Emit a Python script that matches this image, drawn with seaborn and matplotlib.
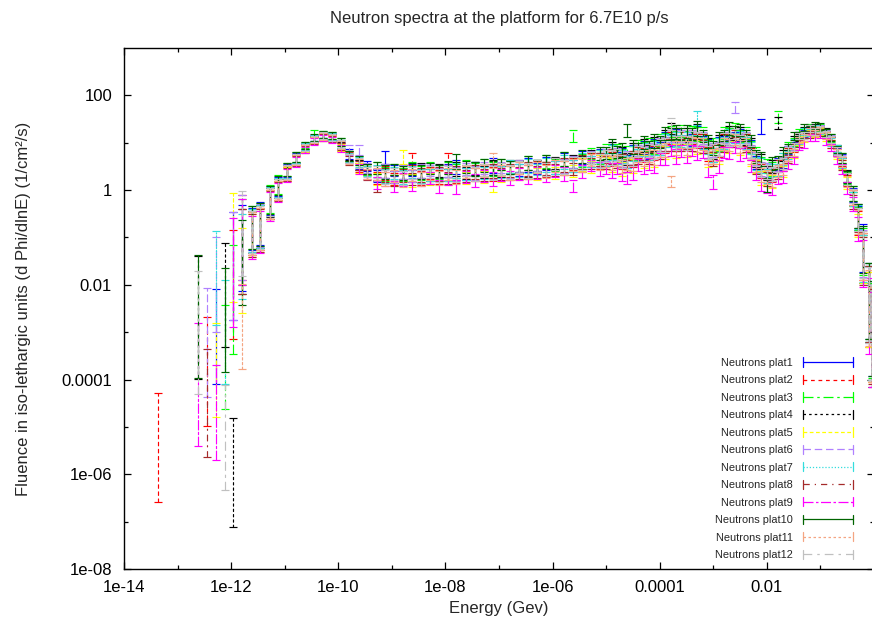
import matplotlib
matplotlib.use("Agg")
import numpy as np
import pandas as pd
import matplotlib.pyplot as plt
from matplotlib.lines import Line2D
from matplotlib.legend_handler import HandlerBase
from matplotlib.ticker import FixedLocator, FixedFormatter, NullFormatter
import seaborn as sns

# ---------------- data ----------------
energy = [4.3e-14,
          2.4e-13, 3.5e-13, 5.2e-13, 7.6e-13, 1.1e-12, 1.6e-12,
          2.4e-12, 3.5e-12, 5.2e-12, 7.6e-12, 1.1e-11, 1.6e-11, 2.4e-11, 3.5e-11, 5.2e-11, 7.6e-11,
          1.1e-10, 1.6e-10, 2.4e-10, 3.5e-10, 5.2e-10, 7.6e-10, 1.1e-9, 1.6e-9, 2.4e-9, 3.5e-9,
          5.2e-9, 7.6e-9, 1.1e-8, 1.6e-8, 2.4e-8, 3.5e-8, 5.2e-8, 7.6e-8, 1.1e-7, 1.6e-7,
          2.4e-7, 3.5e-7, 5.2e-7, 7.6e-7, 1.1e-6, 1.6e-6, 2.4e-6, 3.5e-6, 5.2e-6, 7.6e-6,
          1.0e-5, 1.26e-5, 1.6e-5, 2.0e-5, 2.5e-5, 3.2e-5, 4.0e-5, 5.0e-5, 6.3e-5, 7.9e-5,
          1.0e-4, 1.26e-4, 1.6e-4, 2.0e-4, 2.5e-4, 3.2e-4, 4.0e-4, 5.0e-4, 6.3e-4, 7.9e-4,
          1.0e-3, 1.26e-3, 1.6e-3, 2.0e-3, 2.5e-3, 3.2e-3, 4.0e-3, 5.0e-3, 6.3e-3, 7.9e-3,
          1.0e-2, 1.26e-2, 1.6e-2, 2.0e-2, 2.5e-2, 3.2e-2, 4.0e-2, 5.0e-2, 6.3e-2, 7.9e-2,
          0.10, 0.126, 0.16, 0.20, 0.25, 0.32, 0.40, 0.50, 0.63, 0.79,
          0.92]

# half-height of the error bars, in decades
err_dec = [1.15,
           1.3, 1.15, 1.0, 1.1, 1.15, 0.9,
           0.45, 0.45, 0.3, 0.2, 0.14, 0.1, 0.07, 0.07, 0.07, 0.07,
           0.08, 0.1, 0.1, 0.11, 0.13, 0.15, 0.12, 0.14, 0.13, 0.15,
           0.12, 0.14, 0.13, 0.15, 0.12, 0.14, 0.13, 0.15, 0.12, 0.14,
           0.13, 0.15, 0.12, 0.14, 0.13, 0.15, 0.13, 0.14, 0.12, 0.14,
           0.13, 0.15, 0.12, 0.14, 0.13, 0.15, 0.12, 0.14, 0.13, 0.15,
           0.13, 0.14, 0.12, 0.15, 0.13, 0.14, 0.12, 0.15, 0.13, 0.14,
           0.15, 0.14, 0.12, 0.13, 0.11, 0.13, 0.12, 0.13, 0.14, 0.15,
           0.15, 0.14, 0.13, 0.12, 0.09, 0.08, 0.07, 0.07, 0.07, 0.07,
           0.07, 0.07, 0.08, 0.08, 0.1, 0.12, 0.15, 0.25, 0.5, 0.8,
           1.0]

plat1 = [None, None, None, 8e-4, None, 2.5e-2, 6e-2,
         0.15, 0.2, 0.6, 1.2, 2.6, 4.8, 8.5, 12.5, 14.5, 13.5,
         9.5, 5.8, 3.5, 3.2, 2.0, 4.8, 2.6, 1.8, 2.7, 2.0,
         2.9, 2.1, 2.6, 3.1, 2.2, 2.9, 2.4, 3.3, 2.5, 3.0,
         2.7, 3.4, 2.9, 3.6, 3.0, 4.3, 3.2, 4.8, 4.0, 5.4,
         4.4, 6.5, 4.8, 5.6, 4.0, 6.2, 5.6, 7.8, 6.0, 8.4,
         7.6, 12, 11, 13.5, 10.5, 13, 11.5, 16, 10.5, 8.5,
         5.5, 9.5, 10.5, 15.5, 13, 14.5, 10, 8.5, 3.8, 22,
         2.7, 2.2, 3.6, 3.8, 7.0, 8.6, 14, 15.5, 19.5, 18.5,
         20, 15, 11.5, 6.5, 4.5, 1.7, 0.8, 0.26, 0.06, 0.004,
         0.0012]
plat2 = [3.7e-6, None, 1.5e-4, None, None, 1e-2, 1e-1,
         0.12, 0.15, 0.5, 1.0, 2.2, 4.3, 7.6, 11.5, 13.5, 12.5,
         8.2, 5.1, 3.0, 2.7, 1.8, 2.3, 1.7, 2.1, 4.5, 1.8,
         2.3, 1.9, 4.5, 2.0, 2.6, 2.1, 2.7, 2.2, 2.8, 2.3,
         3.0, 2.4, 3.1, 2.6, 3.5, 2.9, 3.6, 3.4, 4.6, 3.9,
         5.1, 4.6, 5.3, 3.8, 4.5, 4.4, 6.3, 5.5, 6.7, 6.0,
         8.4, 8.5, 12.5, 9.4, 12.5, 9.5, 12.5, 11, 11.5, 5.8,
         6.3, 6.8, 11.5, 11, 14.5, 10.5, 11.5, 5.8, 4.2, 2.5,
         2.3, 2.0, 3.2, 3.4, 6.2, 7.8, 13, 14.5, 18.5, 17.5,
         19, 14.5, 11, 6.2, 4.0, 1.6, 0.7, 0.2, 0.04, 0.003,
         0.0009]
plat3 = [None, None, None, None, 3e-4, 5e-3, 8e-2,
         0.16, 0.19, 0.65, 1.3, 2.7, 5.0, 9.0, 16, 15, 14,
         10.5, 5.3, 4.2, 2.7, 2.9, 2.2, 2.7, 2.1, 2.9, 2.3,
         3.0, 2.4, 2.9, 2.5, 3.2, 2.7, 3.4, 2.8, 3.5, 3.0,
         3.1, 3.7, 3.2, 4.0, 3.4, 4.6, 14, 4.2, 5.9, 5.0,
         6.9, 6.4, 7.3, 5.3, 6.2, 6.0, 8.7, 7.6, 9.2, 8.1,
         11.5, 11.6, 17, 12.8, 17.5, 12.8, 17, 15, 16, 8.2,
         8.7, 9.3, 16, 15, 20, 14, 16, 8.1, 5.8, 3.5,
         3.2, 2.8, 35, 4.7, 8.6, 10.5, 16.5, 17, 21.5, 20,
         21, 16.5, 12.5, 7.0, 4.8, 1.8, 0.85, 0.25, 0.05, 0.004,
         0.0011]
plat4 = [None, 2.0e-3, None, None, 6e-3, 1.1e-6, 5e-2,
         0.13, 0.17, 0.55, 1.1, 2.4, 4.6, 8.0, 12, 14, 13,
         8.7, 5.4, 3.4, 2.8, 2.1, 2.5, 1.9, 2.4, 2.0, 2.6,
         2.1, 2.6, 2.1, 2.8, 2.3, 2.9, 2.4, 3.0, 2.5, 3.1,
         3.2, 2.7, 3.3, 2.8, 3.7, 3.2, 4.0, 3.8, 5.2, 4.4,
         5.2, 7.3, 5.4, 6.0, 4.5, 6.9, 6.5, 8.6, 6.8, 9.3,
         8.6, 13.3, 20, 14.5, 13, 14.6, 13, 17.2, 12, 9.3,
         6.5, 10.6, 12, 17, 15, 16, 12, 9.3, 4.3, 4.0,
         2.3, 3.2, 26, 5.3, 6.5, 11.8, 12.8, 18.5, 18, 21.5,
         18.5, 17, 10.8, 7.6, 3.8, 2.0, 0.65, 0.28, 0.035, 0.0045,
         0.0007]
plat5 = [None, None, None, 1.6e-4, None, 6e-2, 2e-2,
         0.11, 0.14, 0.5, 1.0, 2.2, 4.2, 7.5, 11, 13, 12,
         8.0, 4.9, 2.9, 2.5, 1.7, 2.0, 1.6, 5.0, 1.6, 2.0,
         1.7, 2.1, 1.7, 2.2, 1.8, 2.3, 1.9, 1.3, 2.0, 2.5,
         2.2, 2.6, 2.2, 2.8, 2.3, 3.2, 2.5, 3.5, 3.1, 4.0,
         3.7, 3.4, 3.9, 2.8, 3.2, 3.2, 4.6, 4.0, 4.8, 4.3,
         6.1, 6.2, 9.0, 6.7, 9.1, 6.8, 9.0, 8.0, 8.3, 4.3,
         4.5, 5.0, 8.3, 8.1, 10.7, 7.4, 8.3, 4.3, 3.1, 1.8,
         1.7, 1.5, 2.3, 2.5, 4.5, 5.6, 10.5, 12, 16, 15.5,
         17, 13, 9.5, 5.4, 3.5, 1.4, 0.65, 0.18, 0.035, 0.003,
         0.0009]
plat6 = [None, None, 6e-4, 1e-2, None, 2.5e-2, 1e-1,
         0.14, 0.18, 0.58, 1.15, 2.5, 4.7, 8.3, 12.5, 14.5, 13.5,
         9.0, 7.0, 7.0, 2.9, 2.1, 2.5, 1.9, 2.4, 2.0, 2.5,
         2.6, 2.1, 2.5, 2.2, 2.8, 2.3, 2.9, 2.4, 3.0, 2.5,
         3.2, 2.6, 3.3, 2.8, 3.6, 3.2, 3.9, 3.7, 5.1, 4.3,
         5.5, 5.1, 5.8, 4.2, 4.9, 4.8, 6.9, 6.1, 7.2, 6.5,
         9.2, 9.4, 13.8, 10.3, 13.8, 10.3, 13.8, 12, 12.7, 6.5,
         6.9, 7.4, 12.7, 12, 55, 11.2, 12.7, 6.5, 4.7, 2.8,
         2.6, 2.2, 3.4, 3.7, 6.8, 8.3, 14.3, 14.8, 20, 18,
         20, 15.5, 12, 6.8, 4.4, 1.7, 0.76, 0.24, 0.046, 0.0038,
         0.001]
plat7 = [None, None, None, 1.4e-2, 1e-3, None, 4e-2,
         0.14, 0.17, 0.57, 1.15, 2.5, 4.7, 8.2, 12.5, 14, 13.5,
         9.5, 4.9, 3.9, 2.5, 2.5, 2.0, 2.3, 1.9, 2.4, 2.0,
         2.1, 2.5, 2.1, 2.6, 2.2, 2.8, 2.3, 2.9, 2.4, 3.1,
         2.6, 3.2, 2.7, 3.4, 3.0, 3.9, 3.2, 4.5, 4.0, 5.2,
         4.4, 6.2, 4.6, 5.1, 3.9, 5.9, 5.5, 7.3, 5.8, 7.8,
         7.4, 11, 10.8, 12.2, 10.8, 12.2, 10.8, 33, 9.9, 7.8,
         5.5, 9.0, 9.9, 14.3, 12.6, 13.2, 9.9, 7.8, 3.7, 3.3,
         2.0, 2.6, 2.7, 4.5, 5.5, 10, 11.3, 17.5, 16.5, 20,
         18, 16.5, 10.5, 7.5, 3.7, 1.9, 0.66, 0.27, 0.036, 0.0045,
         0.001]
plat8 = [None, None, 3.2e-5, None, None, None, 5e-2,
         0.11, 0.14, 0.48, 0.95, 2.1, 4.1, 7.2, 11, 13, 12,
         8.4, 4.2, 3.3, 2.1, 1.2, 2.1, 1.6, 2.0, 1.7, 2.1,
         1.8, 2.2, 1.8, 2.3, 2.0, 2.4, 2.1, 2.5, 2.2, 2.6,
         2.3, 2.8, 2.4, 2.9, 2.7, 3.4, 2.8, 3.9, 3.6, 4.5,
         3.8, 5.1, 3.9, 4.1, 3.2, 4.8, 4.6, 5.9, 4.8, 6.3,
         6.0, 9.1, 9.0, 10, 9.0, 10, 9.0, 11.7, 8.3, 6.3,
         4.5, 7.3, 8.3, 11.7, 10.5, 10.8, 8.3, 6.3, 3.0, 2.7,
         1.7, 2.2, 2.3, 3.6, 4.5, 8.2, 9.6, 15, 15, 18,
         16.5, 15, 9.5, 6.6, 3.4, 1.7, 0.57, 0.23, 0.032, 0.004,
         0.0008]
plat9 = [None, 8e-5, None, 2e-5, None, 1.8e-2, 8e-2,
         0.1, 0.13, 0.45, 0.9, 2.0, 3.9, 7.0, 10.5, 12.5, 11.5,
         7.5, 4.6, 2.8, 2.2, 1.4, 1.7, 1.2, 1.7, 1.3, 1.7,
         1.8, 1.2, 1.7, 1.15, 1.9, 1.6, 2.0, 1.7, 2.1, 1.8,
         2.2, 1.9, 2.3, 2.0, 2.5, 2.2, 1.2, 2.5, 3.3, 2.8,
         2.9, 2.6, 2.9, 2.1, 1.8, 2.3, 3.4, 3.0, 3.5, 3.2,
         4.6, 4.7, 6.8, 5.1, 6.8, 5.1, 6.8, 6.1, 6.3, 2.6,
         1.5, 3.2, 6.3, 6.1, 8.0, 5.6, 6.3, 3.2, 2.3, 1.35,
         1.2, 1.1, 1.8, 1.9, 3.4, 4.2, 8.2, 9.2, 13, 12.5,
         14.5, 10.5, 8.0, 4.3, 2.8, 1.1, 0.5, 0.15, 0.028, 0.0022,
         0.0007]
plat10 = [None, 2.1e-3, None, None, 1.8e-3, None, 3e-2,
          0.16, 0.19, 0.62, 1.25, 2.7, 5.0, 8.8, 13, 15, 14,
          10.3, 5.3, 4.2, 2.8, 2.9, 2.4, 2.7, 2.3, 2.8, 2.4,
          2.9, 2.5, 3.0, 4.0, 3.1, 2.8, 3.3, 2.9, 3.5, 3.0,
          3.1, 3.7, 3.2, 3.9, 3.5, 4.5, 3.7, 5.2, 4.8, 6.0,
          6.1, 8.5, 6.4, 7.0, 18, 8.1, 7.6, 10, 8.0, 10.8,
          10.2, 15.5, 15.2, 17, 15.2, 17, 15.2, 20, 14, 10.8,
          7.6, 12.3, 14, 20, 17.8, 18.5, 14, 10.8, 5.1, 4.6,
          1.3, 3.7, 3.8, 6.2, 7.6, 13.8, 14.6, 21, 19.5, 23,
          22, 16.5, 12.8, 7.2, 4.8, 1.9, 0.85, 0.28, 0.055, 0.0045,
          0.0012]
plat11 = [None, None, None, None, None, None, 1.3e-3,
          0.12, 0.15, 0.5, 1.0, 2.3, 4.3, 7.7, 11.5, 13.5, 12.5,
          8.9, 4.5, 3.6, 2.2, 2.2, 1.7, 2.0, 1.6, 2.1, 1.7,
          2.2, 1.8, 2.2, 1.9, 2.4, 2.1, 2.5, 4.2, 2.6, 2.3,
          2.9, 2.4, 3.0, 2.5, 3.2, 2.9, 3.4, 3.3, 4.3, 3.7,
          4.1, 3.8, 4.2, 3.1, 3.6, 3.6, 5.1, 4.5, 5.3, 4.9,
          6.8, 7.0, 1.5, 7.7, 10.2, 7.7, 10.2, 9.0, 9.4, 4.9,
          5.1, 5.6, 9.4, 9.0, 11.8, 8.3, 9.4, 4.9, 3.3, 2.1,
          1.9, 1.6, 2.5, 2.7, 5.1, 6.2, 11.5, 12.7, 17.5, 16,
          18.5, 14, 11, 6.0, 3.9, 1.5, 0.7, 0.21, 0.04, 0.0033,
          0.0009]
plat12 = [None, 1e-3, None, None, 6e-6, None, 1.2e-1,
          0.13, 0.16, 0.56, 1.1, 2.4, 4.5, 8.0, 12, 14, 13,
          9.3, 4.7, 3.7, 2.4, 2.4, 1.9, 2.2, 1.8, 2.3, 1.9,
          2.4, 2.0, 2.4, 2.1, 2.6, 2.2, 2.7, 2.3, 2.8, 2.4,
          3.1, 2.6, 3.2, 2.7, 3.5, 3.1, 3.7, 3.6, 4.8, 4.1,
          5.3, 4.9, 5.5, 4.0, 4.7, 4.6, 6.6, 5.8, 6.9, 6.3,
          8.8, 9.0, 25, 9.9, 13.2, 9.9, 13.2, 11.7, 12.1, 6.3,
          6.6, 7.2, 12.1, 11.7, 15.4, 10.8, 12.1, 6.3, 4.4, 2.7,
          2.4, 2.2, 3.3, 3.6, 6.6, 8.1, 13.8, 14.4, 19.8, 17.5,
          19.5, 15.2, 11.6, 6.6, 4.2, 1.7, 0.74, 0.24, 0.044, 0.0038,
          0.001]

labels = ["Neutrons plat1", "Neutrons plat2", "Neutrons plat3", "Neutrons plat4",
          "Neutrons plat5", "Neutrons plat6", "Neutrons plat7", "Neutrons plat8",
          "Neutrons plat9", "Neutrons plat10", "Neutrons plat11", "Neutrons plat12"]
series = [plat1, plat2, plat3, plat4, plat5, plat6, plat7, plat8, plat9, plat10, plat11, plat12]

x_ticks = [1e-14, 1e-12, 1e-10, 1e-8, 1e-6, 1e-4, 1e-2]
x_ticklabels = ["1e-14", "1e-12", "1e-10", "1e-08", "1e-06", "0.0001", "0.01"]
y_ticks = [1e-8, 1e-6, 1e-4, 1e-2, 1, 100]
y_ticklabels = ["1e-08", "1e-06", "0.0001", "0.01", "1", "100"]

# ---------------- styles ----------------
colors = ["#0000ff", "#ff0000", "#00ff00", "#000000", "#ffff00", "#b080ff",
          "#33dddd", "#a52a2a", "#ff00ff", "#006400", "#f4a582", "#c0c0c0"]
dashes = ["-", (0, (3, 3)), (0, (8, 3, 2, 3)), (0, (2, 2.5)), (0, (3, 2)), (0, (6, 3)),
          (0, (1, 1.5)), (0, (5, 4, 1, 4)), (0, (8, 2, 2, 2)), "-", (0, (2, 2)), (0, (7, 4, 2, 4))]

sns.set_theme(style="ticks")
plt.rcParams["font.family"] = ["Liberation Sans", "DejaVu Sans"]
plt.rcParams["axes.linewidth"] = 1.0
plt.rcParams["xtick.direction"] = "in"
plt.rcParams["ytick.direction"] = "in"

W, H = 872, 623
fig = plt.figure(figsize=(W / 100, H / 100), dpi=100)
ax = fig.add_axes([124 / W, (H - 569) / H, 750 / W, (569 - 48) / H])
ax.set_xscale("log")
ax.set_yscale("log")

for vals, col, ls in zip(series, colors, dashes):
    assert len(vals) == len(energy) == len(err_dec)
    rows = []
    for e, v, d in zip(energy, vals, err_dec):
        if v is None:
            continue
        rows.append((e, v / 10 ** d))
        rows.append((e, v))
        rows.append((e, v * 10 ** d))
    df = pd.DataFrame(rows, columns=["E", "flu"])
    n_before = len(ax.collections)
    sns.lineplot(data=df, x="E", y="flu", estimator="median",
                 errorbar=lambda s: (s.min(), s.max()), err_style="bars",
                 err_kws=dict(capsize=2.6, elinewidth=0.85, capthick=0.85),
                 color=col, linestyle="", marker=None, legend=False, ax=ax)
    for coll in ax.collections[n_before:]:
        coll.set_linestyle(ls)

ax.set_xlim(1e-14, 1)
ax.set_ylim(1e-8, 1e3)

ax.xaxis.set_major_locator(FixedLocator(x_ticks))
ax.xaxis.set_major_formatter(FixedFormatter(x_ticklabels))
ax.xaxis.set_minor_locator(FixedLocator([1e-13, 1e-11, 1e-9, 1e-7, 1e-5, 1e-3, 1e-1]))
ax.xaxis.set_minor_formatter(NullFormatter())
ax.yaxis.set_major_locator(FixedLocator(y_ticks))
ax.yaxis.set_major_formatter(FixedFormatter(y_ticklabels))
ax.yaxis.set_minor_locator(FixedLocator([1e-7, 1e-5, 1e-3, 1e-1, 10]))
ax.yaxis.set_minor_formatter(NullFormatter())

ax.tick_params(which="both", direction="in", top=True, right=True, colors="black",
               labelsize=12, width=0.9)
ax.tick_params(which="major", length=5)
ax.tick_params(which="minor", length=3)
ax.tick_params(axis="y", pad=8.6)
ax.tick_params(axis="x", pad=8)
for sp in ax.spines.values():
    sp.set_color("black")
    sp.set_linewidth(1.0)

ax.set_xlabel("Energy (Gev)", fontsize=12)
ax.set_ylabel("Fluence in iso-lethargic units (d Phi/dlnE) (1/cm\u00b2/s)", fontsize=12)
ax.xaxis.set_label_coords((499 - 124) / 750, (569 - 609) / 521)
ax.yaxis.set_label_coords((23 - 124) / 750, 0.5)
ax.xaxis.label.set_va("center")
ax.yaxis.label.set_va("center")
ax.set_title("Neutron spectra at the platform for 6.7E10 p/s", fontsize=12,
             y=(569 - 18) / 521, va="center", pad=0)


class CapLineHandler(HandlerBase):
    def create_artists(self, legend, orig_handle, xdescent, ydescent,
                       width, height, fontsize, trans):
        y = height / 2.0 - ydescent
        x0, x1 = -xdescent, -xdescent + width
        main = Line2D([x0, x1], [y, y])
        main.update_from(orig_handle)
        hh = height * 0.6
        c = orig_handle.get_color()
        cap1 = Line2D([x0, x0], [y - hh, y + hh], color=c, lw=orig_handle.get_linewidth())
        cap2 = Line2D([x1, x1], [y - hh, y + hh], color=c, lw=orig_handle.get_linewidth())
        for a in (main, cap1, cap2):
            a.set_transform(trans)
        return [main, cap1, cap2]


handles = [Line2D([], [], color=c, lw=0.9, linestyle=ls) for c, ls in zip(colors, dashes)]
leg = ax.legend(handles, labels, handler_map={Line2D: CapLineHandler()},
                loc="lower right", bbox_to_anchor=(853 / W, (H - 560) / H),
                bbox_transform=fig.transFigure, frameon=False, markerfirst=False,
                fontsize=7.9, handlelength=4.55, handletextpad=0.95, labelspacing=0.68,
                borderpad=0, borderaxespad=0)

fig.savefig("out.png", dpi=100)
